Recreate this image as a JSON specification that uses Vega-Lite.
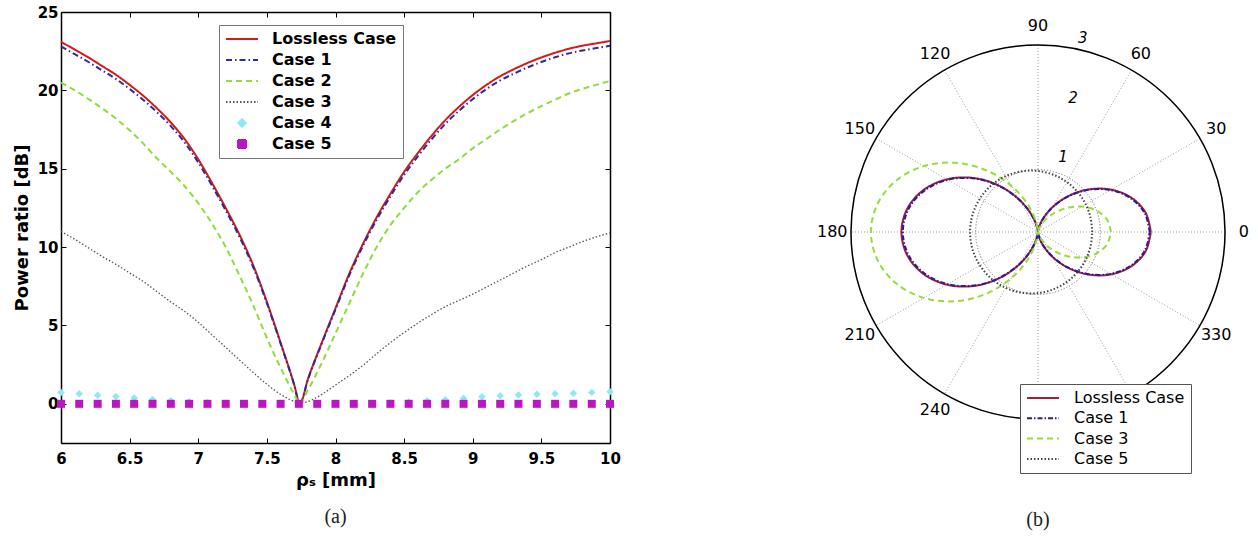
{
"$schema": "https://vega.github.io/schema/vega-lite/v6.json",
"background": "white",
"padding": {"left": 13, "top": 5, "right": 5, "bottom": 5},
"bounds": "flush",
"spacing": 208,
"resolve": {"scale": {"color": "independent", "strokeDash": "independent", "shape": "independent", "size": "independent"}, "legend": {"color": "independent", "strokeDash": "independent", "shape": "independent", "size": "independent"}},
"config": {"view": {"stroke": null}, "font": "DejaVu Sans", "text": {"font": "DejaVu Sans"}, "legend": {"labelFont": "DejaVu Sans", "labelColor": "black"}},
"datasets": {
"linesA": [
{"s":"Lossless Case","rho":6.0,"pr":23.1},{"s":"Lossless Case","rho":6.1,"pr":22.6},{"s":"Lossless Case","rho":6.2,"pr":22.1},{"s":"Lossless Case","rho":6.3,"pr":21.55},{"s":"Lossless Case","rho":6.4,"pr":21.0},{"s":"Lossless Case","rho":6.5,"pr":20.35},{"s":"Lossless Case","rho":6.6,"pr":19.65},{"s":"Lossless Case","rho":6.7,"pr":18.85},{"s":"Lossless Case","rho":6.8,"pr":17.95},{"s":"Lossless Case","rho":6.9,"pr":16.9},{"s":"Lossless Case","rho":7.0,"pr":15.6},{"s":"Lossless Case","rho":7.1,"pr":14.1},{"s":"Lossless Case","rho":7.2,"pr":12.5},{"s":"Lossless Case","rho":7.3,"pr":10.8},{"s":"Lossless Case","rho":7.4,"pr":8.85},{"s":"Lossless Case","rho":7.5,"pr":6.5},{"s":"Lossless Case","rho":7.6,"pr":3.9},{"s":"Lossless Case","rho":7.7,"pr":1.2},{"s":"Lossless Case","rho":7.74,"pr":0},{"s":"Lossless Case","rho":7.8,"pr":1.6},{"s":"Lossless Case","rho":7.9,"pr":3.9},{"s":"Lossless Case","rho":8.0,"pr":6.1},{"s":"Lossless Case","rho":8.1,"pr":8.3},{"s":"Lossless Case","rho":8.2,"pr":10.2},{"s":"Lossless Case","rho":8.3,"pr":11.9},{"s":"Lossless Case","rho":8.4,"pr":13.4},{"s":"Lossless Case","rho":8.5,"pr":14.8},{"s":"Lossless Case","rho":8.6,"pr":16.0},{"s":"Lossless Case","rho":8.7,"pr":17.1},{"s":"Lossless Case","rho":8.8,"pr":18.1},{"s":"Lossless Case","rho":8.9,"pr":18.95},{"s":"Lossless Case","rho":9.0,"pr":19.7},{"s":"Lossless Case","rho":9.1,"pr":20.35},{"s":"Lossless Case","rho":9.2,"pr":20.9},{"s":"Lossless Case","rho":9.3,"pr":21.35},{"s":"Lossless Case","rho":9.4,"pr":21.75},{"s":"Lossless Case","rho":9.5,"pr":22.1},{"s":"Lossless Case","rho":9.6,"pr":22.4},{"s":"Lossless Case","rho":9.7,"pr":22.65},{"s":"Lossless Case","rho":9.8,"pr":22.85},{"s":"Lossless Case","rho":9.9,"pr":23.0},{"s":"Lossless Case","rho":10.0,"pr":23.15},
{"s":"Case 1","rho":6.0,"pr":22.8},{"s":"Case 1","rho":6.1,"pr":22.31},{"s":"Case 1","rho":6.2,"pr":21.81},{"s":"Case 1","rho":6.3,"pr":21.27},{"s":"Case 1","rho":6.4,"pr":20.73},{"s":"Case 1","rho":6.5,"pr":20.09},{"s":"Case 1","rho":6.6,"pr":19.39},{"s":"Case 1","rho":6.7,"pr":18.6},{"s":"Case 1","rho":6.8,"pr":17.72},{"s":"Case 1","rho":6.9,"pr":16.68},{"s":"Case 1","rho":7.0,"pr":15.4},{"s":"Case 1","rho":7.1,"pr":13.92},{"s":"Case 1","rho":7.2,"pr":12.34},{"s":"Case 1","rho":7.3,"pr":10.66},{"s":"Case 1","rho":7.4,"pr":8.73},{"s":"Case 1","rho":7.5,"pr":6.42},{"s":"Case 1","rho":7.6,"pr":3.85},{"s":"Case 1","rho":7.7,"pr":1.18},{"s":"Case 1","rho":7.74,"pr":0},{"s":"Case 1","rho":7.8,"pr":1.58},{"s":"Case 1","rho":7.9,"pr":3.85},{"s":"Case 1","rho":8.0,"pr":6.02},{"s":"Case 1","rho":8.1,"pr":8.19},{"s":"Case 1","rho":8.2,"pr":10.07},{"s":"Case 1","rho":8.3,"pr":11.75},{"s":"Case 1","rho":8.4,"pr":13.23},{"s":"Case 1","rho":8.5,"pr":14.61},{"s":"Case 1","rho":8.6,"pr":15.79},{"s":"Case 1","rho":8.7,"pr":16.88},{"s":"Case 1","rho":8.8,"pr":17.86},{"s":"Case 1","rho":8.9,"pr":18.7},{"s":"Case 1","rho":9.0,"pr":19.44},{"s":"Case 1","rho":9.1,"pr":20.09},{"s":"Case 1","rho":9.2,"pr":20.63},{"s":"Case 1","rho":9.3,"pr":21.07},{"s":"Case 1","rho":9.4,"pr":21.47},{"s":"Case 1","rho":9.5,"pr":21.81},{"s":"Case 1","rho":9.6,"pr":22.11},{"s":"Case 1","rho":9.7,"pr":22.36},{"s":"Case 1","rho":9.8,"pr":22.55},{"s":"Case 1","rho":9.9,"pr":22.7},{"s":"Case 1","rho":10.0,"pr":22.85},
{"s":"Case 2","rho":6.0,"pr":20.5},{"s":"Case 2","rho":6.1,"pr":20.0},{"s":"Case 2","rho":6.2,"pr":19.45},{"s":"Case 2","rho":6.3,"pr":18.85},{"s":"Case 2","rho":6.4,"pr":18.2},{"s":"Case 2","rho":6.5,"pr":17.45},{"s":"Case 2","rho":6.6,"pr":16.6},{"s":"Case 2","rho":6.7,"pr":15.65},{"s":"Case 2","rho":6.8,"pr":14.8},{"s":"Case 2","rho":6.9,"pr":13.9},{"s":"Case 2","rho":7.0,"pr":12.8},{"s":"Case 2","rho":7.1,"pr":11.5},{"s":"Case 2","rho":7.2,"pr":10.0},{"s":"Case 2","rho":7.3,"pr":8.2},{"s":"Case 2","rho":7.4,"pr":6.3},{"s":"Case 2","rho":7.5,"pr":4.2},{"s":"Case 2","rho":7.6,"pr":2.3},{"s":"Case 2","rho":7.7,"pr":0.6},{"s":"Case 2","rho":7.74,"pr":0},{"s":"Case 2","rho":7.8,"pr":0.9},{"s":"Case 2","rho":7.9,"pr":2.6},{"s":"Case 2","rho":8.0,"pr":4.5},{"s":"Case 2","rho":8.1,"pr":6.4},{"s":"Case 2","rho":8.2,"pr":8.3},{"s":"Case 2","rho":8.3,"pr":10.0},{"s":"Case 2","rho":8.4,"pr":11.4},{"s":"Case 2","rho":8.5,"pr":12.5},{"s":"Case 2","rho":8.6,"pr":13.5},{"s":"Case 2","rho":8.7,"pr":14.3},{"s":"Case 2","rho":8.8,"pr":15.0},{"s":"Case 2","rho":8.9,"pr":15.6},{"s":"Case 2","rho":9.0,"pr":16.3},{"s":"Case 2","rho":9.1,"pr":16.9},{"s":"Case 2","rho":9.2,"pr":17.5},{"s":"Case 2","rho":9.3,"pr":18.05},{"s":"Case 2","rho":9.4,"pr":18.55},{"s":"Case 2","rho":9.5,"pr":19.0},{"s":"Case 2","rho":9.6,"pr":19.4},{"s":"Case 2","rho":9.7,"pr":19.8},{"s":"Case 2","rho":9.8,"pr":20.1},{"s":"Case 2","rho":9.9,"pr":20.35},{"s":"Case 2","rho":10.0,"pr":20.6}
],
"dotA": [
{"s":"Case 3","rho":6.0,"pr":11.0},{"s":"Case 3","rho":6.1,"pr":10.5},{"s":"Case 3","rho":6.2,"pr":9.95},{"s":"Case 3","rho":6.3,"pr":9.4},{"s":"Case 3","rho":6.4,"pr":8.9},{"s":"Case 3","rho":6.5,"pr":8.35},{"s":"Case 3","rho":6.6,"pr":7.8},{"s":"Case 3","rho":6.7,"pr":7.15},{"s":"Case 3","rho":6.8,"pr":6.5},{"s":"Case 3","rho":6.9,"pr":5.9},{"s":"Case 3","rho":7.0,"pr":5.2},{"s":"Case 3","rho":7.1,"pr":4.4},{"s":"Case 3","rho":7.2,"pr":3.6},{"s":"Case 3","rho":7.3,"pr":2.8},{"s":"Case 3","rho":7.4,"pr":2.0},{"s":"Case 3","rho":7.5,"pr":1.25},{"s":"Case 3","rho":7.6,"pr":0.6},{"s":"Case 3","rho":7.7,"pr":0.15},{"s":"Case 3","rho":7.74,"pr":0.05},{"s":"Case 3","rho":7.8,"pr":0.15},{"s":"Case 3","rho":7.9,"pr":0.6},{"s":"Case 3","rho":8.0,"pr":1.2},{"s":"Case 3","rho":8.1,"pr":1.8},{"s":"Case 3","rho":8.2,"pr":2.45},{"s":"Case 3","rho":8.3,"pr":3.2},{"s":"Case 3","rho":8.4,"pr":3.9},{"s":"Case 3","rho":8.5,"pr":4.55},{"s":"Case 3","rho":8.6,"pr":5.15},{"s":"Case 3","rho":8.7,"pr":5.7},{"s":"Case 3","rho":8.8,"pr":6.2},{"s":"Case 3","rho":8.9,"pr":6.6},{"s":"Case 3","rho":9.0,"pr":7.0},{"s":"Case 3","rho":9.1,"pr":7.45},{"s":"Case 3","rho":9.2,"pr":7.9},{"s":"Case 3","rho":9.3,"pr":8.35},{"s":"Case 3","rho":9.4,"pr":8.8},{"s":"Case 3","rho":9.5,"pr":9.2},{"s":"Case 3","rho":9.6,"pr":9.65},{"s":"Case 3","rho":9.7,"pr":10.0},{"s":"Case 3","rho":9.8,"pr":10.35},{"s":"Case 3","rho":9.9,"pr":10.65},{"s":"Case 3","rho":10.0,"pr":10.9}
],
"markA": [
{"s":"Case 4","rho":6.0,"pr":0.72},{"s":"Case 4","rho":6.133,"pr":0.64},{"s":"Case 4","rho":6.267,"pr":0.55},{"s":"Case 4","rho":6.4,"pr":0.47},{"s":"Case 4","rho":6.533,"pr":0.37},{"s":"Case 4","rho":6.667,"pr":0.28},{"s":"Case 4","rho":6.8,"pr":0.2},{"s":"Case 4","rho":6.933,"pr":0.13},{"s":"Case 4","rho":7.067,"pr":0.08},{"s":"Case 4","rho":7.2,"pr":0.04},{"s":"Case 4","rho":7.333,"pr":0.02},{"s":"Case 4","rho":7.467,"pr":0.01},{"s":"Case 4","rho":7.6,"pr":0},{"s":"Case 4","rho":7.733,"pr":0},{"s":"Case 4","rho":7.867,"pr":0},{"s":"Case 4","rho":8.0,"pr":0.01},{"s":"Case 4","rho":8.133,"pr":0.02},{"s":"Case 4","rho":8.267,"pr":0.04},{"s":"Case 4","rho":8.4,"pr":0.07},{"s":"Case 4","rho":8.533,"pr":0.12},{"s":"Case 4","rho":8.667,"pr":0.18},{"s":"Case 4","rho":8.8,"pr":0.26},{"s":"Case 4","rho":8.933,"pr":0.36},{"s":"Case 4","rho":9.067,"pr":0.45},{"s":"Case 4","rho":9.2,"pr":0.52},{"s":"Case 4","rho":9.333,"pr":0.57},{"s":"Case 4","rho":9.467,"pr":0.61},{"s":"Case 4","rho":9.6,"pr":0.64},{"s":"Case 4","rho":9.733,"pr":0.68},{"s":"Case 4","rho":9.867,"pr":0.73},{"s":"Case 4","rho":10.0,"pr":0.77},
{"s":"Case 5","rho":6.0,"pr":0},{"s":"Case 5","rho":6.133,"pr":0},{"s":"Case 5","rho":6.267,"pr":0},{"s":"Case 5","rho":6.4,"pr":0},{"s":"Case 5","rho":6.533,"pr":0},{"s":"Case 5","rho":6.667,"pr":0},{"s":"Case 5","rho":6.8,"pr":0},{"s":"Case 5","rho":6.933,"pr":0},{"s":"Case 5","rho":7.067,"pr":0},{"s":"Case 5","rho":7.2,"pr":0},{"s":"Case 5","rho":7.333,"pr":0},{"s":"Case 5","rho":7.467,"pr":0},{"s":"Case 5","rho":7.6,"pr":0},{"s":"Case 5","rho":7.733,"pr":0},{"s":"Case 5","rho":7.867,"pr":0},{"s":"Case 5","rho":8.0,"pr":0},{"s":"Case 5","rho":8.133,"pr":0},{"s":"Case 5","rho":8.267,"pr":0},{"s":"Case 5","rho":8.4,"pr":0},{"s":"Case 5","rho":8.533,"pr":0},{"s":"Case 5","rho":8.667,"pr":0},{"s":"Case 5","rho":8.8,"pr":0},{"s":"Case 5","rho":8.933,"pr":0},{"s":"Case 5","rho":9.067,"pr":0},{"s":"Case 5","rho":9.2,"pr":0},{"s":"Case 5","rho":9.333,"pr":0},{"s":"Case 5","rho":9.467,"pr":0},{"s":"Case 5","rho":9.6,"pr":0},{"s":"Case 5","rho":9.733,"pr":0},{"s":"Case 5","rho":9.867,"pr":0},{"s":"Case 5","rho":10.0,"pr":0}
],
"polar": [
{"s":"Lossless Case","a":0,"x":1.81,"y":0},{"s":"Lossless Case","a":10,"x":1.729,"y":0.305},{"s":"Lossless Case","a":20,"x":1.502,"y":0.547},{"s":"Lossless Case","a":30,"x":1.176,"y":0.679},{"s":"Lossless Case","a":40,"x":0.814,"y":0.683},{"s":"Lossless Case","a":50,"x":0.481,"y":0.573},{"s":"Lossless Case","a":60,"x":0.226,"y":0.392},{"s":"Lossless Case","a":70,"x":0.072,"y":0.199},{"s":"Lossless Case","a":80,"x":0.009,"y":0.054},{"s":"Lossless Case","a":90,"x":0,"y":0},{"s":"Lossless Case","a":100,"x":-0.011,"y":0.068},{"s":"Lossless Case","a":110,"x":-0.088,"y":0.25},{"s":"Lossless Case","a":120,"x":-0.274,"y":0.493},{"s":"Lossless Case","a":130,"x":-0.582,"y":0.721},{"s":"Lossless Case","a":140,"x":-0.984,"y":0.859},{"s":"Lossless Case","a":150,"x":-1.422,"y":0.854},{"s":"Lossless Case","a":160,"x":-1.817,"y":0.688},{"s":"Lossless Case","a":170,"x":-2.092,"y":0.384},{"s":"Lossless Case","a":180,"x":-2.19,"y":0},{"s":"Lossless Case","a":190,"x":-2.092,"y":-0.384},{"s":"Lossless Case","a":200,"x":-1.817,"y":-0.688},{"s":"Lossless Case","a":210,"x":-1.422,"y":-0.854},{"s":"Lossless Case","a":220,"x":-0.984,"y":-0.859},{"s":"Lossless Case","a":230,"x":-0.582,"y":-0.721},{"s":"Lossless Case","a":240,"x":-0.274,"y":-0.493},{"s":"Lossless Case","a":250,"x":-0.088,"y":-0.25},{"s":"Lossless Case","a":260,"x":-0.011,"y":-0.068},{"s":"Lossless Case","a":270,"x":0,"y":0},{"s":"Lossless Case","a":280,"x":0.009,"y":-0.054},{"s":"Lossless Case","a":290,"x":0.072,"y":-0.199},{"s":"Lossless Case","a":300,"x":0.226,"y":-0.392},{"s":"Lossless Case","a":310,"x":0.481,"y":-0.573},{"s":"Lossless Case","a":320,"x":0.814,"y":-0.683},{"s":"Lossless Case","a":330,"x":1.176,"y":-0.679},{"s":"Lossless Case","a":340,"x":1.502,"y":-0.547},{"s":"Lossless Case","a":350,"x":1.729,"y":-0.305},{"s":"Lossless Case","a":360,"x":1.81,"y":0},
{"s":"Case 1","a":0,"x":1.792,"y":0},{"s":"Case 1","a":10,"x":1.712,"y":0.302},{"s":"Case 1","a":20,"x":1.487,"y":0.542},{"s":"Case 1","a":30,"x":1.164,"y":0.672},{"s":"Case 1","a":40,"x":0.806,"y":0.676},{"s":"Case 1","a":50,"x":0.476,"y":0.567},{"s":"Case 1","a":60,"x":0.224,"y":0.388},{"s":"Case 1","a":70,"x":0.071,"y":0.197},{"s":"Case 1","a":80,"x":0.009,"y":0.053},{"s":"Case 1","a":90,"x":0,"y":0},{"s":"Case 1","a":100,"x":-0.011,"y":0.067},{"s":"Case 1","a":110,"x":-0.087,"y":0.248},{"s":"Case 1","a":120,"x":-0.271,"y":0.488},{"s":"Case 1","a":130,"x":-0.576,"y":0.714},{"s":"Case 1","a":140,"x":-0.974,"y":0.851},{"s":"Case 1","a":150,"x":-1.408,"y":0.846},{"s":"Case 1","a":160,"x":-1.799,"y":0.681},{"s":"Case 1","a":170,"x":-2.071,"y":0.38},{"s":"Case 1","a":180,"x":-2.168,"y":0},{"s":"Case 1","a":190,"x":-2.071,"y":-0.38},{"s":"Case 1","a":200,"x":-1.799,"y":-0.681},{"s":"Case 1","a":210,"x":-1.408,"y":-0.846},{"s":"Case 1","a":220,"x":-0.974,"y":-0.851},{"s":"Case 1","a":230,"x":-0.576,"y":-0.714},{"s":"Case 1","a":240,"x":-0.271,"y":-0.488},{"s":"Case 1","a":250,"x":-0.087,"y":-0.248},{"s":"Case 1","a":260,"x":-0.011,"y":-0.067},{"s":"Case 1","a":270,"x":0,"y":0},{"s":"Case 1","a":280,"x":0.009,"y":-0.053},{"s":"Case 1","a":290,"x":0.071,"y":-0.197},{"s":"Case 1","a":300,"x":0.224,"y":-0.388},{"s":"Case 1","a":310,"x":0.476,"y":-0.567},{"s":"Case 1","a":320,"x":0.806,"y":-0.676},{"s":"Case 1","a":330,"x":1.164,"y":-0.672},{"s":"Case 1","a":340,"x":1.487,"y":-0.542},{"s":"Case 1","a":350,"x":1.712,"y":-0.302},{"s":"Case 1","a":360,"x":1.792,"y":0},
{"s":"Case 3","a":0,"x":1.17,"y":0},{"s":"Case 3","a":10,"x":1.109,"y":0.196},{"s":"Case 3","a":20,"x":0.941,"y":0.343},{"s":"Case 3","a":30,"x":0.707,"y":0.408},{"s":"Case 3","a":40,"x":0.46,"y":0.386},{"s":"Case 3","a":50,"x":0.249,"y":0.297},{"s":"Case 3","a":60,"x":0.103,"y":0.179},{"s":"Case 3","a":70,"x":0.027,"y":0.075},{"s":"Case 3","a":80,"x":0.003,"y":0.015},{"s":"Case 3","a":90,"x":0,"y":0},{"s":"Case 3","a":100,"x":-0.026,"y":0.147},{"s":"Case 3","a":110,"x":-0.156,"y":0.429},{"s":"Case 3","a":120,"x":-0.427,"y":0.74},{"s":"Case 3","a":130,"x":-0.831,"y":0.99},{"s":"Case 3","a":140,"x":-1.323,"y":1.11},{"s":"Case 3","a":150,"x":-1.831,"y":1.057},{"s":"Case 3","a":160,"x":-2.273,"y":0.827},{"s":"Case 3","a":170,"x":-2.573,"y":0.454},{"s":"Case 3","a":180,"x":-2.68,"y":0},{"s":"Case 3","a":190,"x":-2.573,"y":-0.454},{"s":"Case 3","a":200,"x":-2.273,"y":-0.827},{"s":"Case 3","a":210,"x":-1.831,"y":-1.057},{"s":"Case 3","a":220,"x":-1.323,"y":-1.11},{"s":"Case 3","a":230,"x":-0.831,"y":-0.99},{"s":"Case 3","a":240,"x":-0.427,"y":-0.74},{"s":"Case 3","a":250,"x":-0.156,"y":-0.429},{"s":"Case 3","a":260,"x":-0.026,"y":-0.147},{"s":"Case 3","a":270,"x":0,"y":0},{"s":"Case 3","a":280,"x":0.003,"y":-0.015},{"s":"Case 3","a":290,"x":0.027,"y":-0.075},{"s":"Case 3","a":300,"x":0.103,"y":-0.179},{"s":"Case 3","a":310,"x":0.249,"y":-0.297},{"s":"Case 3","a":320,"x":0.46,"y":-0.386},{"s":"Case 3","a":330,"x":0.707,"y":-0.408},{"s":"Case 3","a":340,"x":0.941,"y":-0.343},{"s":"Case 3","a":350,"x":1.109,"y":-0.196},{"s":"Case 3","a":360,"x":1.17,"y":0},
{"s":"Case 5","a":0,"x":0.87,"y":0},{"s":"Case 5","a":15,"x":0.844,"y":0.226},{"s":"Case 5","a":30,"x":0.766,"y":0.443},{"s":"Case 5","a":45,"x":0.638,"y":0.638},{"s":"Case 5","a":60,"x":0.463,"y":0.801},{"s":"Case 5","a":75,"x":0.246,"y":0.919},{"s":"Case 5","a":90,"x":0,"y":0.98},{"s":"Case 5","a":105,"x":-0.261,"y":0.974},{"s":"Case 5","a":120,"x":-0.518,"y":0.896},{"s":"Case 5","a":135,"x":-0.748,"y":0.748},{"s":"Case 5","a":150,"x":-0.931,"y":0.538},{"s":"Case 5","a":165,"x":-1.049,"y":0.281},{"s":"Case 5","a":180,"x":-1.09,"y":0},{"s":"Case 5","a":195,"x":-1.049,"y":-0.281},{"s":"Case 5","a":210,"x":-0.931,"y":-0.538},{"s":"Case 5","a":225,"x":-0.748,"y":-0.748},{"s":"Case 5","a":240,"x":-0.518,"y":-0.896},{"s":"Case 5","a":255,"x":-0.261,"y":-0.974},{"s":"Case 5","a":270,"x":0,"y":-0.98},{"s":"Case 5","a":285,"x":0.246,"y":-0.919},{"s":"Case 5","a":300,"x":0.463,"y":-0.801},{"s":"Case 5","a":315,"x":0.638,"y":-0.638},{"s":"Case 5","a":330,"x":0.766,"y":-0.443},{"s":"Case 5","a":345,"x":0.844,"y":-0.226},{"s":"Case 5","a":360,"x":0.87,"y":0}
],
"spokes": [
{"x1":3,"y1":0,"x2":-3,"y2":0},{"x1":2.598,"y1":1.5,"x2":-2.598,"y2":-1.5},{"x1":1.5,"y1":2.598,"x2":-1.5,"y2":-2.598},{"x1":0,"y1":3,"x2":0,"y2":-3},{"x1":-1.5,"y1":2.598,"x2":1.5,"y2":-2.598},{"x1":-2.598,"y1":1.5,"x2":2.598,"y2":-1.5}
],
"angLabels": [
{"t":"0","x":3.3,"y":0},{"t":"30","x":2.858,"y":1.65},{"t":"60","x":1.65,"y":2.858},{"t":"90","x":0,"y":3.3},{"t":"120","x":-1.65,"y":2.858},{"t":"150","x":-2.858,"y":1.65},{"t":"180","x":-3.3,"y":0},{"t":"210","x":-2.858,"y":-1.65},{"t":"240","x":-1.65,"y":-2.858},{"t":"330","x":2.858,"y":-1.65}
],
"radLabels": [
{"t":"1","x":0.4,"y":1.2},{"t":"2","x":0.56,"y":2.15},{"t":"3","x":0.72,"y":3.11}
]
},
"hconcat": [
{
"width": 549, "height": 431,
"title": {"text": "(a)", "orient": "bottom", "font": "Liberation Serif", "fontSize": 20, "fontWeight": "normal", "color": "#222", "offset": 18},
"resolve": {"axis": {"x": "independent", "y": "independent"}},
"layer": [
{
"data": {"name": "linesA"},
"mark": {"type": "line", "strokeWidth": 2, "interpolate": "monotone"},
"encoding": {
"x": {"field": "rho", "type": "quantitative", "scale": {"domain": [6, 10], "nice": false, "zero": false},
 "axis": {"orient": "bottom", "values": [6, 6.5, 7, 7.5, 8, 8.5, 9, 9.5, 10], "format": "~g", "grid": false, "labelFont": "DejaVu Sans", "labelFontSize": 15, "labelFontWeight": "bold", "labelColor": "black", "labelPadding": 13, "labelFlush": false, "labelOverlap": false, "tickSize": -5, "tickColor": "black", "domainColor": "black", "domainWidth": 1.5, "title": "ρₛ [mm]", "titleFont": "DejaVu Sans", "titleFontSize": 18, "titleFontWeight": "bold", "titleColor": "black", "titlePadding": 5}},
"y": {"field": "pr", "type": "quantitative", "scale": {"domain": [-2.5, 25], "nice": false, "zero": false},
 "axis": {"orient": "left", "values": [0, 5, 10, 15, 20, 25], "format": "~g", "grid": false, "labelFont": "DejaVu Sans", "labelFontSize": 15, "labelFontWeight": "bold", "labelColor": "black", "labelPadding": 8, "labelFlush": false, "labelOverlap": false, "tickSize": -5, "tickColor": "black", "domainColor": "black", "domainWidth": 1.5, "title": "Power ratio [dB]", "titleFont": "DejaVu Sans", "titleFontSize": 18, "titleFontWeight": "bold", "titleColor": "black", "titlePadding": 6}},
"color": {"field": "s", "type": "nominal", "scale": {"domain": ["Lossless Case", "Case 1", "Case 2", "Case 3", "Case 4", "Case 5"], "range": ["#d41a1a", "#2c2a9c", "#8fdc3c", "#555555", "#8eeaf2", "#bb14c4"]},
 "legend": {"title": null, "orient": "none", "legendX": 158, "legendY": 13, "labelFontSize": 16, "labelFontWeight": "bold", "strokeColor": "#777", "fillColor": "white", "padding": 6, "rowPadding": 5, "clipHeight": 16, "labelOffset": 13, "symbolStrokeWidth": 2}},
"strokeDash": {"field": "s", "type": "nominal", "scale": {"domain": ["Lossless Case", "Case 1", "Case 2", "Case 3", "Case 4", "Case 5"], "range": [[1, 0], [6, 3, 1.5, 3], [6, 4], [1.5, 2], [1, 0], [1, 0]]},
 "legend": {"title": null, "orient": "none", "legendX": 158, "legendY": 13, "labelFontSize": 16, "labelFontWeight": "bold", "strokeColor": "#777", "fillColor": "white", "padding": 6, "rowPadding": 5, "clipHeight": 16, "labelOffset": 13, "symbolStrokeWidth": 2}}
}
},
{
"data": {"name": "dotA"},
"mark": {"type": "line", "strokeWidth": 1.3, "interpolate": "monotone"},
"encoding": {
"x": {"field": "rho", "type": "quantitative", "scale": {"domain": [6, 10], "nice": false, "zero": false}, "axis": null},
"y": {"field": "pr", "type": "quantitative", "scale": {"domain": [-2.5, 25], "nice": false, "zero": false}, "axis": null},
"color": {"field": "s", "type": "nominal", "scale": {"domain": ["Lossless Case", "Case 1", "Case 2", "Case 3", "Case 4", "Case 5"], "range": ["#d41a1a", "#2c2a9c", "#8fdc3c", "#555555", "#8eeaf2", "#bb14c4"]},
 "legend": {"title": null, "orient": "none", "legendX": 158, "legendY": 13, "labelFontSize": 16, "labelFontWeight": "bold", "strokeColor": "#777", "fillColor": "white", "padding": 6, "rowPadding": 5, "clipHeight": 16, "labelOffset": 13, "symbolStrokeWidth": 2}},
"strokeDash": {"field": "s", "type": "nominal", "scale": {"domain": ["Lossless Case", "Case 1", "Case 2", "Case 3", "Case 4", "Case 5"], "range": [[1, 0], [6, 3, 1.5, 3], [6, 4], [1.5, 2], [1, 0], [1, 0]]},
 "legend": {"title": null, "orient": "none", "legendX": 158, "legendY": 13, "labelFontSize": 16, "labelFontWeight": "bold", "strokeColor": "#777", "fillColor": "white", "padding": 6, "rowPadding": 5, "clipHeight": 16, "labelOffset": 13, "symbolStrokeWidth": 2}}
}
},
{
"data": {"name": "markA"},
"mark": {"type": "point", "filled": true, "opacity": 1},
"encoding": {
"x": {"field": "rho", "type": "quantitative", "scale": {"domain": [6, 10], "nice": false, "zero": false},
 "axis": {"orient": "top", "values": [6, 6.5, 7, 7.5, 8, 8.5, 9, 9.5, 10], "labels": false, "grid": false, "tickSize": -5, "tickColor": "black", "domainColor": "black", "domainWidth": 1.5, "title": null}},
"y": {"field": "pr", "type": "quantitative", "scale": {"domain": [-2.5, 25], "nice": false, "zero": false},
 "axis": {"orient": "right", "values": [0, 5, 10, 15, 20, 25], "labels": false, "grid": false, "tickSize": -5, "tickColor": "black", "domainColor": "black", "domainWidth": 1.5, "title": null}},
"color": {"field": "s", "type": "nominal", "scale": {"domain": ["Lossless Case", "Case 1", "Case 2", "Case 3", "Case 4", "Case 5"], "range": ["#d41a1a", "#2c2a9c", "#8fdc3c", "#555555", "#8eeaf2", "#bb14c4"]},
 "legend": {"title": null, "orient": "none", "legendX": 158, "legendY": 13, "labelFontSize": 16, "labelFontWeight": "bold", "strokeColor": "#777", "fillColor": "white", "padding": 6, "rowPadding": 5, "clipHeight": 16, "labelOffset": 13, "symbolStrokeWidth": 2}},
"shape": {"field": "s", "type": "nominal", "scale": {"domain": ["Lossless Case", "Case 1", "Case 2", "Case 3", "Case 4", "Case 5"], "range": ["stroke", "stroke", "stroke", "stroke", "diamond", "square"]},
 "legend": {"title": null, "orient": "none", "legendX": 158, "legendY": 13, "labelFontSize": 16, "labelFontWeight": "bold", "strokeColor": "#777", "fillColor": "white", "padding": 6, "rowPadding": 5, "clipHeight": 16, "labelOffset": 13, "symbolStrokeWidth": 2}},
"size": {"field": "s", "type": "nominal", "scale": {"type": "ordinal", "domain": ["Lossless Case", "Case 1", "Case 2", "Case 3", "Case 4", "Case 5"], "range": [1024, 1024, 1024, 1024, 56, 64]},
 "legend": {"title": null, "orient": "none", "legendX": 158, "legendY": 13, "labelFontSize": 16, "labelFontWeight": "bold", "strokeColor": "#777", "fillColor": "white", "padding": 6, "rowPadding": 5, "clipHeight": 16, "labelOffset": 13, "symbolStrokeWidth": 2}}
}
}
]
},
{
"width": 440, "height": 440,
"title": {"text": "(b)", "orient": "bottom", "font": "Liberation Serif", "fontSize": 20, "fontWeight": "normal", "color": "#222", "offset": 36},
"layer": [
{
"data": {"values": [{"r": 1}, {"r": 2}]},
"mark": {"type": "arc", "filled": false, "stroke": "#9a9a9a", "strokeWidth": 1, "strokeDash": [1, 2], "theta": 0, "theta2": 6.2832},
"encoding": {"radius": {"field": "r", "type": "quantitative", "scale": {"type": "linear", "domain": [0, 3.529], "range": [0, 220], "zero": true}}}
},
{
"data": {"name": "spokes"},
"mark": {"type": "rule", "stroke": "#9a9a9a", "strokeWidth": 1, "strokeDash": [1, 2]},
"encoding": {
"x": {"field": "x1", "type": "quantitative", "scale": {"domain": [-3.529, 3.529], "nice": false, "zero": false}, "axis": null},
"y": {"field": "y1", "type": "quantitative", "scale": {"domain": [-3.529, 3.529], "nice": false, "zero": false}, "axis": null},
"x2": {"field": "x2"}, "y2": {"field": "y2"}
}
},
{
"data": {"values": [{"r": 3}]},
"mark": {"type": "arc", "filled": false, "stroke": "black", "strokeWidth": 1.5, "theta": 0, "theta2": 6.2832},
"encoding": {"radius": {"field": "r", "type": "quantitative", "scale": {"type": "linear", "domain": [0, 3.529], "range": [0, 220], "zero": true}}}
},
{
"data": {"name": "polar"},
"mark": {"type": "line", "strokeWidth": 2, "interpolate": "catmull-rom"},
"encoding": {
"x": {"field": "x", "type": "quantitative", "scale": {"domain": [-3.529, 3.529], "nice": false, "zero": false}, "axis": null},
"y": {"field": "y", "type": "quantitative", "scale": {"domain": [-3.529, 3.529], "nice": false, "zero": false}, "axis": null},
"order": {"field": "a", "type": "quantitative"},
"color": {"field": "s", "type": "nominal", "scale": {"domain": ["Lossless Case", "Case 1", "Case 3", "Case 5"], "range": ["#a0203a", "#2b1b9a", "#98dc3a", "#444444"]},
 "legend": {"title": null, "orient": "none", "legendX": 202, "legendY": 372, "labelFontSize": 16, "labelFontWeight": "normal", "strokeColor": "#555", "fillColor": "white", "padding": 6, "rowPadding": 4.3, "clipHeight": 16, "labelOffset": 14, "symbolType": "stroke", "symbolSize": 1024, "symbolStrokeWidth": 2}},
"strokeDash": {"field": "s", "type": "nominal", "scale": {"domain": ["Lossless Case", "Case 1", "Case 3", "Case 5"], "range": [[1, 0], [5, 2, 1.5, 2], [6, 4], [1.5, 2]]},
 "legend": {"title": null, "orient": "none", "legendX": 202, "legendY": 372, "labelFontSize": 16, "labelFontWeight": "normal", "strokeColor": "#555", "fillColor": "white", "padding": 6, "rowPadding": 4.3, "clipHeight": 16, "labelOffset": 14, "symbolType": "stroke", "symbolSize": 1024, "symbolStrokeWidth": 2}}
}
},
{
"data": {"name": "angLabels"},
"mark": {"type": "text", "font": "DejaVu Sans", "fontSize": 16, "color": "black", "align": "center", "baseline": "middle"},
"encoding": {
"x": {"field": "x", "type": "quantitative", "scale": {"domain": [-3.529, 3.529], "nice": false, "zero": false}, "axis": null},
"y": {"field": "y", "type": "quantitative", "scale": {"domain": [-3.529, 3.529], "nice": false, "zero": false}, "axis": null},
"text": {"field": "t"}
}
},
{
"data": {"name": "radLabels"},
"mark": {"type": "text", "font": "DejaVu Sans", "fontSize": 15, "fontStyle": "italic", "color": "black", "align": "center", "baseline": "middle"},
"encoding": {
"x": {"field": "x", "type": "quantitative", "scale": {"domain": [-3.529, 3.529], "nice": false, "zero": false}, "axis": null},
"y": {"field": "y", "type": "quantitative", "scale": {"domain": [-3.529, 3.529], "nice": false, "zero": false}, "axis": null},
"text": {"field": "t"}
}
}
]
}
]
}
